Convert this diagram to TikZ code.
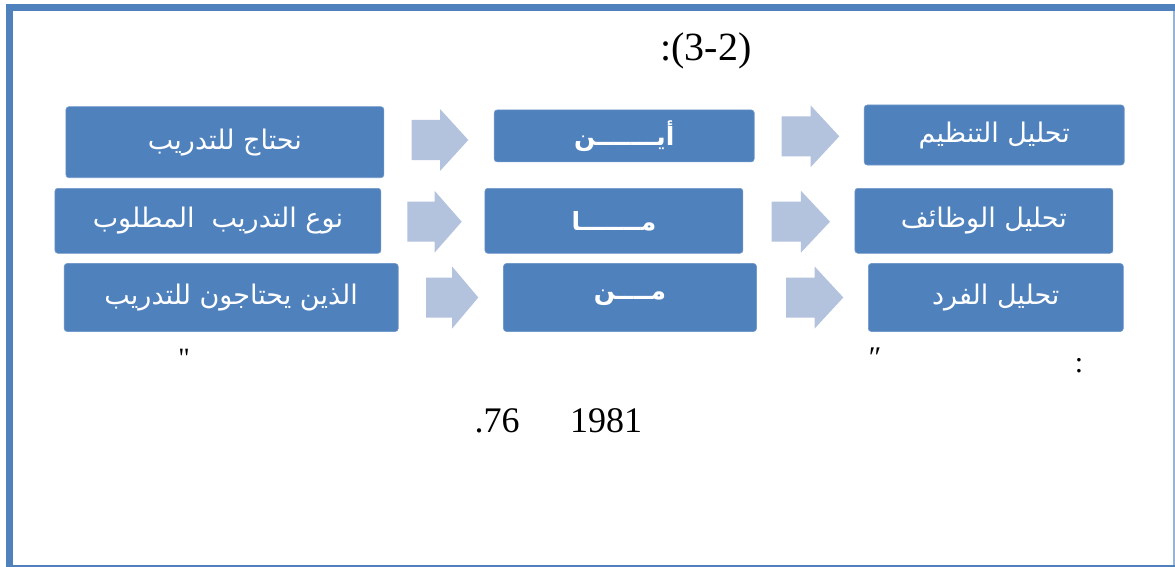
\documentclass[tikz,border=0pt]{standalone}
\usepackage{fontspec}
\setmainfont{Liberation Serif}
\newfontfamily\qfont{Liberation Serif}
\newfontfamily\arabicfont[Script=Arabic]{DejaVu Sans}
\TeXXeTstate=1
\definecolor{boxblue}{HTML}{4F81BD}
\definecolor{arrowblue}{HTML}{B3C3DE}
\definecolor{frameblue}{HTML}{4F81BD}
\newcommand\blockarrow[3]{%
  \fill[arrowblue] (#1,{#3-20}) -- ({(#1+#2)/2},{#3-20}) -- ({(#1+#2)/2},{#3-31})
    -- (#2,#3) -- ({(#1+#2)/2},{#3+31}) -- ({(#1+#2)/2},{#3+20}) -- (#1,{#3+20}) -- cycle;}
\begin{document}
\begin{tikzpicture}[x=1pt,y=-1pt,
  bluebox/.style={fill=boxblue, draw=boxblue!80!white, line width=0.6pt, rounded corners=3pt,
    text=white, inner sep=0pt, font=\arabicfont\fontsize{27}{30}\selectfont},
  midtext/.style={font=\arabicfont\bfseries\fontsize{25}{28}\selectfont},
  plain/.style={inner sep=0pt, text=black}]
\useasboundingbox (0,0) rectangle (1175,567);
\fill[white] (0,0) rectangle (1175,567);
% frame
\fill[frameblue] (6,4) rectangle (1175,11);
\fill[frameblue] (6,4) rectangle (13,567);
\fill[frameblue!60!white] (1172.5,11) rectangle (1175,567);
\fill[frameblue] (13,564.5) rectangle (1175,567);
% title
\node[plain, font=\fontsize{40}{44}\selectfont] (title) at (706,51) {:(3-2)};
% boxes row 1
\node[bluebox, minimum width=318pt, minimum height=71pt] (l1) at (224.9,142.2) {\beginR نحتاج للتدريب\endR};
\node[bluebox, midtext, minimum width=260pt, minimum height=52pt] (m1) at (624.2,135.9) {\beginR أيـــــــن\endR};
\node[bluebox, minimum width=260pt, minimum height=60pt] (r1) at (994.2,135) {\beginR تحليل التنظيم\endR};
% row 2
\node[bluebox, minimum width=326pt, minimum height=65pt] (l2) at (217.9,220.8) {\beginR نوع التدريب\ \ المطلوب\endR};
\node[bluebox, midtext, minimum width=258pt, minimum height=65pt] (m2) at (613.9,220.8) {\beginR مـــــــا\endR};
\node[bluebox, minimum width=258pt, minimum height=65pt] (r2) at (983.9,220.8) {\beginR تحليل الوظائف\endR};
% row 3
\node[bluebox, minimum width=334pt, minimum height=68pt] (l3) at (231.2,297.5) {\beginR الذين يحتاجون للتدريب\endR};
\node[bluebox, midtext, minimum width=253pt, minimum height=68pt] (m3) at (630,297.5) {\beginR مــــن\endR};
\node[bluebox, minimum width=255pt, minimum height=68pt] (r3) at (995.8,297.5) {\beginR تحليل الفرد\endR};
% block arrows
\blockarrow{411.7}{468.3}{140}
\blockarrow{781.7}{839.3}{136.3}
\blockarrow{407.3}{461.7}{221.7}
\blockarrow{771.7}{830}{221.7}
\blockarrow{426}{478.3}{297.5}
\blockarrow{786}{843.3}{297.5}
% bottom texts
\node[plain, font=\qfont\fontsize{28}{32}\selectfont] (q1) at (184,358) {"};
\node[plain, font=\fontsize{30}{34}\selectfont] (q2) at (875,358) {″};
\node[plain, font=\fontsize{30}{34}\selectfont] (colon) at (1079,366) {:};
\node[plain, font=\fontsize{36}{40}\selectfont] (pg) at (497,421) {.76};
\node[plain, font=\fontsize{36}{40}\selectfont] (yr) at (606,421) {1981};
\end{tikzpicture}
\end{document}
